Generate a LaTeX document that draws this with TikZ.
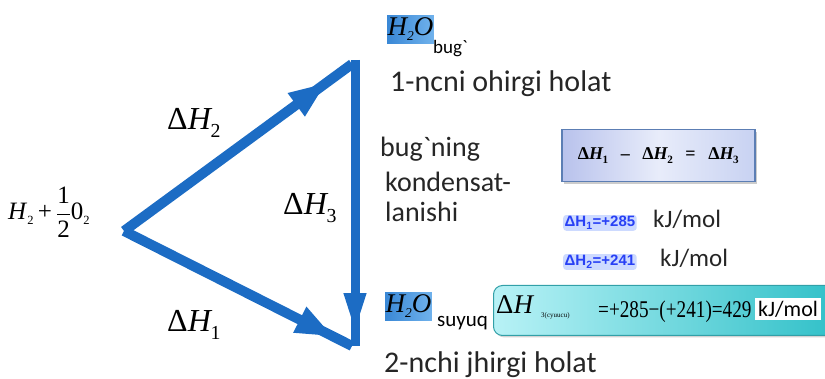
\documentclass[tikz,border=0pt]{standalone}
\usepackage{fontspec}
\newfontfamily\clb[Ligatures=TeXOff]{Carlito}
\newfontfamily\lsans{Liberation Sans}
\newfontfamily\tms{Liberation Serif}
\usetikzlibrary{arrows.meta,decorations.markings,shadows}
\definecolor{arrblue}{RGB}{28,108,196}
\definecolor{hlA}{RGB}{58,136,214}
\definecolor{hlB}{RGB}{112,178,236}
\definecolor{boxL}{RGB}{184,194,236}
\definecolor{boxM}{RGB}{232,236,250}
\definecolor{boxR}{RGB}{200,210,242}
\definecolor{boxE}{RGB}{92,126,180}
\definecolor{tealL}{RGB}{184,242,246}
\definecolor{tealR}{RGB}{48,192,200}
\definecolor{tealE}{RGB}{50,160,168}
\definecolor{glowtxt}{RGB}{40,64,245}
\definecolor{glowbg}{RGB}{205,218,255}
\newcommand{\dH}[1]{Δ\textit{H}\kern-0.05em\raisebox{-0.25em}{\scalebox{0.62}{#1}}}
\begin{document}
\begin{tikzpicture}[x=1pt,y=-1pt,
  harrow/.style={draw=arrblue, line width=#1},
  midtip/.style={postaction=decorate, decoration={markings,
      mark=at position #1 with {\arrow[arrblue]{Triangle[length=38pt,width=26pt]}}}},
  dhlbl/.style={inner sep=0pt, anchor=base west, font=\tms\fontsize{32}{34}\selectfont},
  sanstxt/.style={inner sep=0pt, anchor=base west, font=\clb\fontsize{28}{30}\selectfont, text=black!85},
  unit/.style={inner sep=0pt, anchor=base west, font=\clb\fontsize{25}{27}\selectfont, text=black!85},
  glow/.style={inner sep=1.5pt, anchor=base west, fill=glowbg, rounded corners=3pt,
      text=glowtxt, font=\lsans\bfseries\fontsize{15}{16}\selectfont},
  hl/.style={left color=hlA, right color=hlB, inner xsep=0.5pt, inner ysep=2.5pt,
      font=\tms\itshape\fontsize{27}{28}\selectfont}
 ]
\useasboundingbox (0,0) rectangle (825,379);

% vertices
\coordinate (A) at (124,231);
\coordinate (B) at (352,64);
\coordinate (C) at (352,346);
\coordinate (Bv) at (355,60);
\coordinate (Cv) at (355,346);

% arrows
\draw[harrow=10pt, midtip=0.89] (A) -- (B);
\draw[harrow=10pt, midtip=0.92] (A) -- (C);
\draw[harrow=9pt, postaction=decorate, decoration={markings,
  mark=at position 0.955 with {\arrow[arrblue]{Triangle[length=40pt,width=20pt]}}}] (Bv) -- (Cv);

% triangle labels
\node[dhlbl] (dh2) at (167,130) {\dH{2}};
\node[dhlbl] (dh1) at (167,332) {\dH{1}};
\node[dhlbl] (dh3) at (283,215) {\dH{3}};
\node[inner sep=0pt, anchor=base west, font=\tms\fontsize{25}{27}\selectfont] (react) at (8,220)
  {\textit{H}\raisebox{-0.2em}{\scalebox{0.5}{2}}\,+\,$\displaystyle\frac{\hbox{\tms 1}}{\hbox{\tms 2}}$0\raisebox{-0.2em}{\scalebox{0.5}{2}}};

% top state
\node[hl, anchor=north west] (h2ot) at (387,15) {H\raisebox{-0.2em}{\scalebox{0.5}{2}}O};
\node[inner sep=0pt, anchor=base west, font=\clb\fontsize{19}{20}\selectfont] (bugt) at (433,54) {bug`};
\node[sanstxt, font=\clb\fontsize{30}{32}\selectfont] (st1) at (390,92) {1-ncni ohirgi holat};

% condensation text
\node[sanstxt] (c1) at (380,157) {bug`ning};
\node[sanstxt] (c2) at (385,192) {kondensat-};
\node[sanstxt] (c3) at (385,222) {lanishi};

% formula box
\node[draw=boxE, line width=1.5pt, left color=boxL, right color=boxR, middle color=boxM,
      drop shadow={shadow xshift=2pt, shadow yshift=-2pt, opacity=0.4},
      minimum width=193pt, minimum height=52pt, anchor=north west,
      font=\tms\bfseries\fontsize{18}{19}\selectfont] (fbox) at (561,129)
  {\dH{1}\hspace{0.7em}–\hspace{0.7em}\dH{2}\hspace{0.7em}=\hspace{0.7em}\dH{3}};

% values
\node[glow] (v1) at (563,227) {ΔH\textsubscript{1}=+285};
\node[unit] (u1) at (653,228) {kJ/mol};
\node[glow] (v2) at (563,266) {ΔH\textsubscript{2}=+241};
\node[unit] (u2) at (660,267) {kJ/mol};

% result box
\node[draw=tealE, line width=1pt, rounded corners=9pt, left color=tealL, right color=tealR,
      drop shadow={shadow xshift=2pt, shadow yshift=-2pt, opacity=0.35},
      minimum width=345pt, minimum height=50pt, anchor=north west] (tbox) at (493,285) {};
\node[inner sep=0pt, anchor=base west, font=\tms\fontsize{27}{28}\selectfont] (dh3r) at (496,314) {Δ\textit{H}};
\node[inner sep=0pt, anchor=base west, font=\tms\fontsize{7}{8}\selectfont] (sub3) at (541,318) {3(cyuucu)};
\node[inner sep=0pt, anchor=base west, font=\tms\fontsize{24}{25}\selectfont] (calc) at (598,318) {\scalebox{0.8}[1]{=+285−(+241)=429}};
\node[fill=white, inner xsep=3pt, inner ysep=3pt, anchor=west, font=\clb\fontsize{22}{24}\selectfont] (u3) at (755,309) {kJ/mol};

% bottom state
\node[hl, anchor=north west] (h2ob) at (385,292) {H\raisebox{-0.2em}{\scalebox{0.5}{2}}O};
\node[inner sep=0pt, anchor=base west, font=\clb\fontsize{21}{22}\selectfont] (suy) at (437,327) {suyuq};
\node[sanstxt, font=\clb\fontsize{30}{32}\selectfont] (st2) at (384,373) {2-nchi jhirgi holat};
\end{tikzpicture}
\end{document}
